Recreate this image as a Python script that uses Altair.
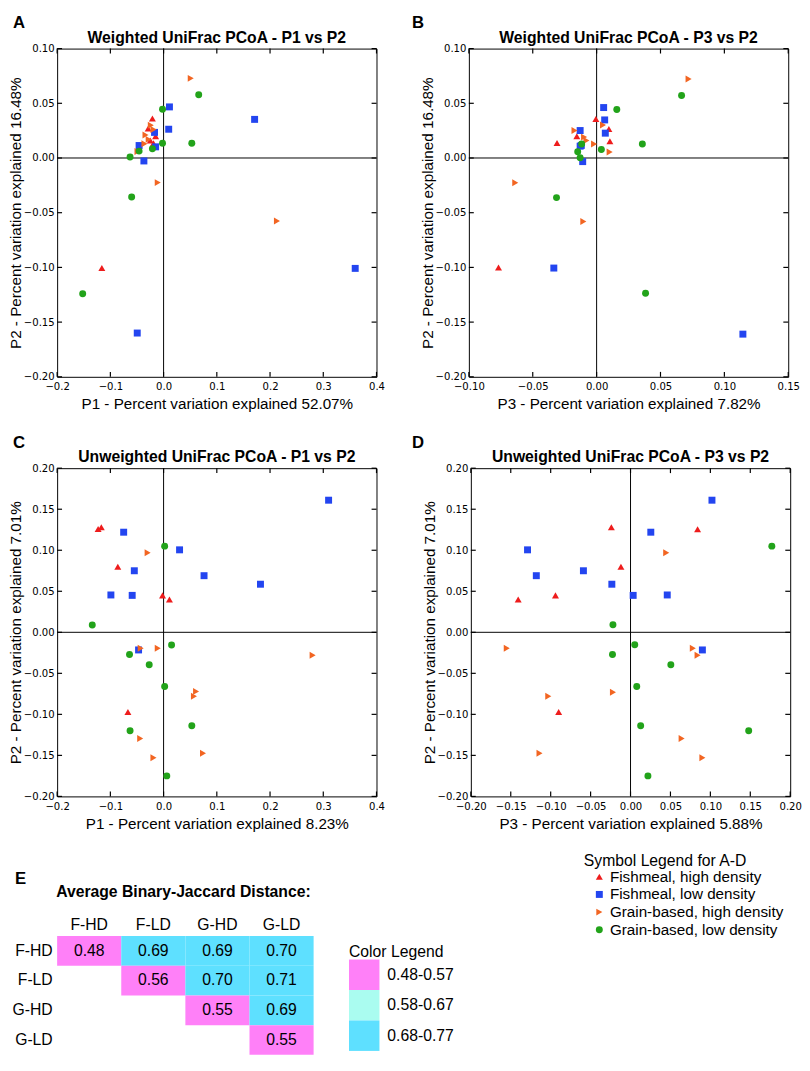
import altair as alt
import pandas as pd

FONT = "Liberation Sans"
TICK_FONT = "DejaVu Sans"

GROUPS = ["Fishmeal, high density", "Fishmeal, low density",
          "Grain-based, high density", "Grain-based, low density"]
GROUP_COLORS = ["#ee1c1c", "#2345f0", "#f26522", "#22a31a"]
GROUP_SHAPES = ["triangle-up", "square", "triangle-right", "circle"]

# ---- Panel A: Weighted UniFrac P1 vs P2 ----
A_X = [-0.021, -0.029, -0.015, -0.025, -0.019, -0.116,
       0.011, 0.171, 0.0096, -0.017, -0.046, -0.015, -0.037, -0.0495, 0.360,
       0.051, -0.024, -0.019, -0.034, -0.028, -0.036, -0.049, -0.011, 0.213,
       0.066, -0.002, -0.002, 0.053, -0.021, -0.046, -0.063, -0.060, -0.152]
A_Y = [0.036, 0.027, 0.020, 0.016, 0.0135, -0.1005,
       0.0467, 0.0353, 0.0263, 0.0234, 0.0114, 0.0102, -0.0027, -0.160, -0.1009,
       0.0728, 0.030, 0.026, 0.021, 0.017, 0.013, 0.006, -0.0225, -0.0575,
       0.0578, 0.0446, 0.0135, 0.0135, 0.0084, 0.0063, 0.001, -0.0357, -0.124]
A_G = [0] * 6 + [1] * 9 + [2] * 9 + [3] * 9

# ---- Panel B: Weighted UniFrac P3 vs P2 ----
B_X = [-0.0006, 0.0096, -0.0155, -0.031, 0.0104, -0.0768,
       0.0055, 0.0063, 0.0068, -0.0129, -0.0129, -0.0120, -0.0109, -0.0335, 0.1145,
       0.072, 0.005, -0.0173, -0.0098, -0.008, -0.002, 0.0102, -0.0637, -0.0104,
       0.0665, 0.0158, -0.0117, 0.0358, 0.0037, -0.0148, -0.0129, -0.0314, 0.0383]
B_Y = [0.0357, 0.0266, 0.0198, 0.0137, 0.0153, -0.100,
       0.0461, 0.0348, 0.0227, 0.0251, 0.0108, 0.0115, -0.0033, -0.1006, -0.161,
       0.0722, 0.0302, 0.0251, 0.0191, 0.016, 0.0128, 0.0054, -0.0227, -0.058,
       0.0572, 0.0443, 0.0128, 0.0128, 0.0078, 0.0057, 0.0003, -0.0362, -0.1237]
B_G = [0] * 6 + [1] * 9 + [2] * 9 + [3] * 9

# ---- Panel C: Unweighted UniFrac P1 vs P2 ----
C_X = [-0.123, -0.117, -0.086, -0.002, 0.011, -0.067,
       0.310, -0.075, 0.030, -0.055, 0.076, 0.182, -0.099, -0.059, -0.047,
       -0.030, -0.043, -0.011, 0.280, 0.061, 0.057, -0.044, 0.074, -0.019,
       0.002, -0.134, 0.015, -0.064, -0.027, 0.002, 0.053, -0.063, 0.006]
C_Y = [0.126, 0.128, 0.080, 0.045, 0.040, -0.097,
       0.161, 0.122, 0.1005, 0.075, 0.069, 0.0586, 0.0455, 0.045, -0.0215,
       0.097, -0.0195, -0.0195, -0.028, -0.072, -0.078, -0.1295, -0.1475, -0.153,
       0.105, 0.009, -0.0155, -0.027, -0.0395, -0.066, -0.114, -0.120, -0.175]
C_G = [0] * 6 + [1] * 9 + [2] * 9 + [3] * 9

# ---- Panel D: Unweighted UniFrac P3 vs P2 ----
D_X = [-0.024, 0.084, -0.012, -0.1407, -0.094, -0.090,
       0.102, 0.0254, -0.129, -0.118, -0.059, -0.0234, 0.0033, 0.046, 0.090,
       0.0447, -0.155, 0.078, 0.084, -0.022, -0.103, 0.064, -0.114, 0.090,
       0.177, -0.022, 0.0053, -0.0226, 0.0505, 0.0078, 0.0127, 0.148, 0.0218]
D_Y = [0.128, 0.1256, 0.080, 0.040, 0.045, -0.097,
       0.161, 0.122, 0.1005, 0.069, 0.075, 0.0586, 0.045, 0.0455, -0.0215,
       0.097, -0.0195, -0.0195, -0.028, -0.073, -0.078, -0.1295, -0.1475, -0.153,
       0.105, 0.0092, -0.0152, -0.027, -0.0395, -0.066, -0.114, -0.120, -0.175]
D_G = [0] * 6 + [1] * 9 + [2] * 9 + [3] * 9

# ---- axis tick values ----
TICKS_P1 = [-0.2, -0.1, 0.0, 0.1, 0.2, 0.3, 0.4]
TICKS_P2_W = [-0.20, -0.15, -0.10, -0.05, 0.00, 0.05, 0.10]
TICKS_P3_W = [-0.10, -0.05, 0.00, 0.05, 0.10, 0.15]
TICKS_P2_U = [-0.20, -0.15, -0.10, -0.05, 0.00, 0.05, 0.10, 0.15, 0.20]
TICKS_P3_U = [-0.20, -0.15, -0.10, -0.05, 0.00, 0.05, 0.10, 0.15, 0.20]

# ---- panel E: average binary-Jaccard distance ----
HM_LABELS = ["F-HD", "F-LD", "G-HD", "G-LD"]
HM_ROWS = ["F-HD", "F-HD", "F-HD", "F-HD", "F-LD", "F-LD", "F-LD", "G-HD", "G-HD", "G-LD"]
HM_COLS = ["F-HD", "F-LD", "G-HD", "G-LD", "F-LD", "G-HD", "G-LD", "G-HD", "G-LD", "G-LD"]
HM_VALS = [0.48, 0.69, 0.69, 0.70, 0.56, 0.70, 0.71, 0.55, 0.69, 0.55]
RANGE_LABELS = ["0.48-0.57", "0.58-0.67", "0.68-0.77"]
RANGE_UPPER = [0.575, 0.675, 0.775]
RANGE_COLORS = ["#ff80f8", "#aafcf0", "#5ee0ff"]

W, H = 325, 334
TICK = 5

color_scale = alt.Scale(domain=GROUPS, range=GROUP_COLORS)
shape_scale = alt.Scale(domain=GROUPS, range=GROUP_SHAPES)


def text_layer(label, x, y, size, weight, align="left"):
    return alt.Chart(pd.DataFrame({"t": [label]})).mark_text(
        font=FONT, fontSize=size, fontWeight=weight, baseline="alphabetic",
        align=align, color="black").encode(text="t:N", x=alt.value(x), y=alt.value(y))


def panel(xs, ys, gs, xdom, ydom, xticks, yticks, xfmt, yfmt,
          xtitle, ytitle, heading, letter, letter_x):
    df = pd.DataFrame({"x": xs, "y": ys, "group": [GROUPS[g] for g in gs]})
    xsc = alt.Scale(domain=xdom, nice=False, zero=False)
    ysc = alt.Scale(domain=ydom, nice=False, zero=False)
    common = dict(domain=False, grid=False, ticks=False, labelOverlap=False,
                  labelFlush=False, labelFont=TICK_FONT, labelFontSize=10.25,
                  labelColor="black", titleFont=FONT,
                  titleFontSize=15.5, titleFontWeight="normal", titleColor="black")
    xaxis = alt.Axis(orient="bottom", values=xticks, format=xfmt, title=xtitle,
                     labelPadding=5, titlePadding=5, **common)
    yaxis = alt.Axis(orient="left", values=yticks, format=yfmt, title=ytitle,
                     labelPadding=3, titlePadding=0, **common)
    zero = pd.DataFrame({"z": [0.0]})
    xt = pd.DataFrame({"t": xticks})
    yt = pd.DataFrame({"t": yticks})
    vline = alt.Chart(zero).mark_rule(color="black", strokeWidth=1).encode(
        x=alt.X("z:Q", scale=xsc, axis=None))
    hline = alt.Chart(zero).mark_rule(color="black", strokeWidth=1).encode(
        y=alt.Y("z:Q", scale=ysc, axis=None))
    tick_top = alt.Chart(xt).mark_rule(color="black", strokeWidth=1.2).encode(
        x=alt.X("t:Q", scale=xsc, axis=None), y=alt.value(0), y2=alt.value(TICK))
    tick_bot = alt.Chart(xt).mark_rule(color="black", strokeWidth=1.2).encode(
        x=alt.X("t:Q", scale=xsc, axis=None), y=alt.value(H - TICK), y2=alt.value(H))
    tick_left = alt.Chart(yt).mark_rule(color="black", strokeWidth=1.2).encode(
        y=alt.Y("t:Q", scale=ysc, axis=None), x=alt.value(0), x2=alt.value(TICK))
    tick_right = alt.Chart(yt).mark_rule(color="black", strokeWidth=1.2).encode(
        y=alt.Y("t:Q", scale=ysc, axis=None), x=alt.value(W - TICK), x2=alt.value(W))
    pts = alt.Chart(df).mark_point(filled=True, opacity=1, size=50, strokeWidth=0).encode(
        x=alt.X("x:Q", scale=xsc, axis=xaxis),
        y=alt.Y("y:Q", scale=ysc, axis=yaxis),
        color=alt.Color("group:N", scale=color_scale, legend=None),
        shape=alt.Shape("group:N", scale=shape_scale, legend=None),
    )
    head = text_layer(heading, W / 2, -6, 16, "bold", align="center")
    let = text_layer(letter, letter_x, -21, 17, "bold")
    return alt.layer(vline, hline, tick_top, tick_bot, tick_left, tick_right, pts, head, let
                     ).resolve_axis(x="independent", y="independent").properties(
        width=W, height=H,
        view=alt.ViewBackground(stroke="black", strokeWidth=1),
    )


pa = panel(A_X, A_Y, A_G, [-0.2, 0.4], [-0.2, 0.1], TICKS_P1, TICKS_P2_W, ".1f", ".2f",
           "P1 - Percent variation explained 52.07%", "P2 - Percent variation explained 16.48%",
           "Weighted UniFrac PCoA - P1 vs P2", "A", -45)
pb = panel(B_X, B_Y, B_G, [-0.1, 0.15], [-0.2, 0.1], TICKS_P3_W, TICKS_P2_W, ".2f", ".2f",
           "P3 - Percent variation explained 7.82%", "P2 - Percent variation explained 16.48%",
           "Weighted UniFrac PCoA - P3 vs P2", "B", -58)
pc = panel(C_X, C_Y, C_G, [-0.2, 0.4], [-0.2, 0.2], TICKS_P1, TICKS_P2_U, ".1f", ".2f",
           "P1 - Percent variation explained 8.23%", "P2 - Percent variation explained 7.01%",
           "Unweighted UniFrac PCoA - P1 vs P2", "C", -45)
pd_ = panel(D_X, D_Y, D_G, [-0.2, 0.2], [-0.2, 0.2], TICKS_P3_U, TICKS_P2_U, ".2f", ".2f",
            "P3 - Percent variation explained 5.88%", "P2 - Percent variation explained 7.01%",
            "Unweighted UniFrac PCoA - P3 vs P2", "D", -60)


def range_of(v):
    for lab, up in zip(RANGE_LABELS, RANGE_UPPER):
        if v < up:
            return lab
    return RANGE_LABELS[-1]


hm = pd.DataFrame({"row": HM_ROWS, "col": HM_COLS, "val": HM_VALS})
hm["range"] = [range_of(v) for v in HM_VALS]

HM_W, HM_H = 261, 121

sym_legend = alt.Legend(
    title=None, orient="none", legendX=538, legendY=-68,
    labelFont=FONT, labelFontSize=15.5, labelColor="black", labelLimit=400,
    symbolSize=50, symbolOffset=6, labelOffset=3, rowPadding=1,
    symbolStrokeWidth=0, symbolOpacity=1,
)
color_legend = alt.Legend(
    title="Color Legend", orient="none", legendX=297, legendY=8,
    titleFont=FONT, titleFontSize=16, titleFontWeight="normal", titleColor="black",
    labelFont=FONT, labelFontSize=16, labelColor="black", labelLimit=400,
    symbolType="square", symbolSize=961, symbolStrokeWidth=0, symbolOpacity=1,
    rowPadding=0, labelOffset=8, titlePadding=0,
)

xh = alt.X("col:N", scale=alt.Scale(domain=HM_LABELS, paddingInner=0, paddingOuter=0),
           axis=alt.Axis(orient="top", domain=False, ticks=False, labelAngle=0,
                         labelFont=FONT, labelFontSize=16, labelColor="black",
                         labelPadding=4, title=None))
yh = alt.Y("row:N", scale=alt.Scale(domain=HM_LABELS, paddingInner=0, paddingOuter=0),
           axis=alt.Axis(orient="left", domain=False, ticks=False,
                         labelFont=FONT, labelFontSize=16, labelColor="black",
                         labelPadding=5, title=None))
cells = alt.Chart(hm).mark_rect(strokeWidth=0).encode(
    x=xh, y=yh,
    fill=alt.Fill("range:N", scale=alt.Scale(domain=RANGE_LABELS, range=RANGE_COLORS),
                  legend=color_legend))
vals = alt.Chart(hm).mark_text(font=FONT, fontSize=16, color="black").encode(
    x=xh, y=yh, text=alt.Text("val:Q", format=".2f"))
sub = text_layer("Average Binary-Jaccard Distance:", -1, -40, 16, "bold")
letter_e = text_layer("E", -43, -53, 17, "bold")
sym_title = text_layer("Symbol Legend for A-D", 536, -71, 16, "normal")
# symbol legend source (legend only, marks invisible)
sym_src = alt.Chart(pd.DataFrame({"group": GROUPS})).mark_point(
    filled=True, opacity=0, size=50).encode(
    x=alt.value(0), y=alt.value(0),
    color=alt.Color("group:N", scale=color_scale, legend=sym_legend),
    shape=alt.Shape("group:N", scale=shape_scale, legend=sym_legend),
)
heat = alt.layer(cells, vals, sub, letter_e, sym_title, sym_src).properties(
    width=HM_W, height=HM_H)

row1 = alt.hconcat(pa, pb, spacing=26)
row2 = alt.hconcat(pc, pd_, spacing=26)
top = alt.vconcat(row1, row2, spacing=20)
chart = alt.vconcat(top, heat, spacing=21).resolve_scale(
    color="independent", shape="independent", fill="independent").resolve_legend(
    color="independent", shape="independent", fill="independent").properties(
    padding={"top": -4, "left": 0, "right": 0, "bottom": 0}).configure_view(strokeWidth=0)

chart.save("out.html", embed_options={"renderer": "svg", "actions": False})
